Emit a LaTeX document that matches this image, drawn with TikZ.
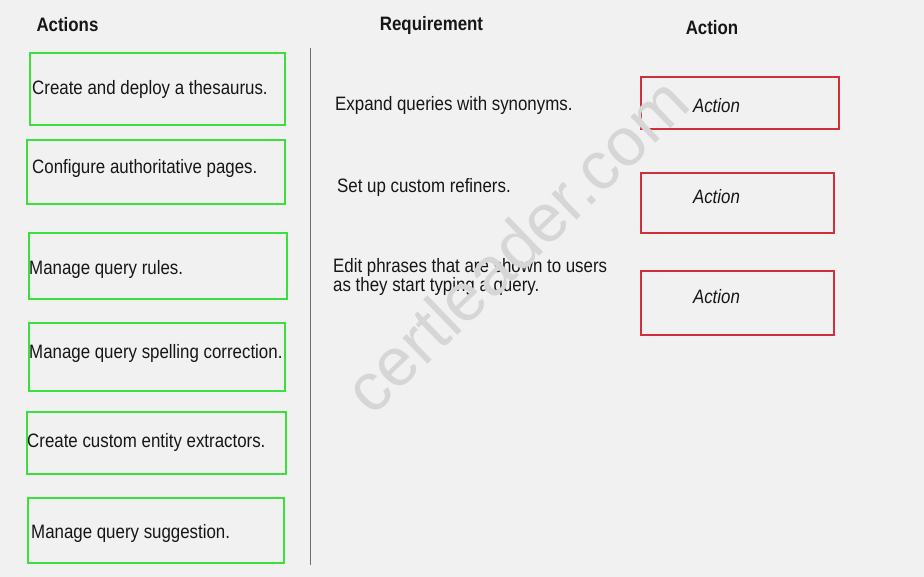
\documentclass[tikz,border=0pt]{standalone}
\usepackage{fontspec}
\setmainfont{Liberation Sans}[FakeStretch=0.87]
\newfontfamily\wmfont{Liberation Sans}
\definecolor{bgc}{RGB}{241,241,241}
\definecolor{gboxc}{RGB}{60,224,60}
\definecolor{rboxc}{RGB}{208,48,58}
\definecolor{txtc}{RGB}{22,22,22}
\definecolor{wmc}{RGB}{214,214,214}
\definecolor{sepc}{RGB}{110,110,110}
\tikzset{
  gbox/.style={draw=gboxc, line width=2.8pt, rectangle, inner sep=0pt},
  rbox/.style={draw=rboxc, line width=2.3pt, rectangle, inner sep=0pt},
  txt/.style={font=\fontsize{19.4}{17}\selectfont, text=txtc, inner sep=0pt, anchor=west},
  hdr/.style={font=\fontsize{19.4}{17}\selectfont\bfseries, text=txtc, inner sep=0pt},
  act/.style={font=\fontsize{19.4}{17}\selectfont\itshape, text=txtc, inner sep=0pt},
}
\begin{document}
\begin{tikzpicture}[x=1pt,y=-1pt]
\fill[bgc] (0,0) rectangle (924,577);
\useasboundingbox (0,0) rectangle (924,577);
% headers
\node[hdr] (h1) at (67.5,25) {Actions};
\node[hdr] (h2) at (431.5,25) {Requirement};
\node[hdr] (h3) at (712,28) {Action};
% separator
\coordinate (s1) at (310,48);
\coordinate (s2) at (310,565);
\draw[sepc, line width=0.8pt] (s1) -- (s2);
% action boxes
\node[gbox, minimum width=255pt, minimum height=72pt] (b1) at (157.5,89) {};
\node[gbox, minimum width=258pt, minimum height=64pt] (b2) at (156,172) {};
\node[gbox, minimum width=258pt, minimum height=66pt] (b3) at (158,266) {};
\node[gbox, minimum width=256pt, minimum height=68pt] (b4) at (157,357) {};
\node[gbox, minimum width=259pt, minimum height=62pt] (b5) at (156.5,443) {};
\node[gbox, minimum width=256pt, minimum height=65pt] (b6) at (156,530.5) {};
\node[txt] (t1) at (32,89) {Create and deploy a thesaurus.};
\node[txt] (t2) at (32,168) {Configure authoritative pages.};
\node[txt] (t3) at (29,269) {Manage query rules.};
\node[txt] (t4) at (29,353) {Manage query spelling correction.};
\node[txt] (t5) at (27,442) {Create custom entity extractors.};
\node[txt] (t6) at (31,533) {Manage query suggestion.};
% requirements
\node[txt] (r1) at (335,105) {Expand queries with synonyms.};
\node[txt] (r2) at (337,187) {Set up custom refiners.};
\node[txt, align=left, anchor=north west] (r3) at (333,258) {Edit phrases that are shown to users\\as they start typing a query.};
% answer boxes
\node[rbox, minimum width=198pt, minimum height=52pt] (a1) at (740,103) {};
\node[rbox, minimum width=193pt, minimum height=60pt] (a2) at (737.5,203) {};
\node[rbox, minimum width=193pt, minimum height=64pt] (a3) at (737.5,303) {};
\node[act] (l1) at (716.5,106) {Action};
\node[act] (l2) at (716.5,197) {Action};
\node[act] (l3) at (716.5,297) {Action};
% watermark (drawn over the texts, as in the reference)
\node[text=wmc, font=\wmfont\fontsize{68}{68}\selectfont, rotate=44, inner sep=0pt] (wm) at (516,245) {certleader.com};
\end{tikzpicture}
\end{document}
